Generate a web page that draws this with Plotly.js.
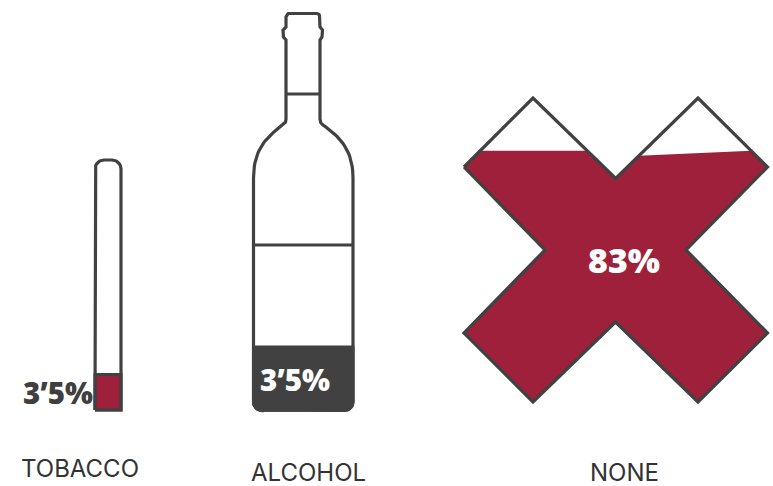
<!DOCTYPE html>
<html>
<head>
<meta charset="utf-8">
<script src="https://cdn.plot.ly/plotly-3.0.1.min.js"></script>
<style>html,body{margin:0;padding:0;background:#fff}#chart{width:773px;height:486px}</style>
</head>
<body>
<div id="chart"></div>
<script>
// Survey shares, each shown as a pictogram that is filled up to a level.
const categories = ['TOBACCO', 'ALCOHOL', 'NONE'];
const shareLabels = ['3’5%', '3’5%', '83%'];
const fillLevels = [14.2, 16, 83];

const CRIMSON = '#9f203b';
const INK = '#414141';
const TEXT = '#333333';

// Sample a circular corner into polyline points (angles in degrees, y grows downward).
function arc(cx, cy, r, from, to, steps = 8) {
  const pts = [];
  for (let i = 0; i <= steps; i++) {
    const a = (from + (to - from) * i / steps) * Math.PI / 180;
    pts.push([cx + r * Math.cos(a), cy + r * Math.sin(a)]);
  }
  return pts;
}
// Sample a cubic curve into polyline points.
function cubic(p0, p1, p2, p3, steps = 20) {
  const pts = [];
  for (let i = 0; i <= steps; i++) {
    const t = i / steps, u = 1 - t;
    pts.push([0, 1].map(k => u*u*u*p0[k] + 3*u*u*t*p1[k] + 3*u*t*t*p2[k] + t*t*t*p3[k]));
  }
  return pts;
}
// Keep the part of a polygon on the side where a*x + b*y + c >= 0.
function clip(poly, a, b, c) {
  const out = [];
  const side = p => a * p[0] + b * p[1] + c;
  poly.forEach((p, i) => {
    const q = poly[(i + 1) % poly.length], sp = side(p), sq = side(q);
    if (sp >= 0) out.push(p);
    if ((sp >= 0) !== (sq >= 0)) {
      const t = sp / (sp - sq);
      out.push([p[0] + (q[0] - p[0]) * t, p[1] + (q[1] - p[1]) * t]);
    }
  });
  return out;
}

// Pictogram outlines
const cigarette = [
  [95, 410], [95, 170], ...arc(104, 169, 9, 180, 270), ...arc(112, 169, 9, 270, 360), [121, 410]
];
const bottle = [
  [262, 410], ...arc(262, 402, 8.5, 90, 180), [253.5, 178],
  ...cubic([253.5, 178], [253.5, 150], [266, 137], [283, 125]),
  ...cubic([283, 125], [285, 123.5], [286, 122], [286, 119]),
  [286, 40], [283.5, 37], [283, 30], [286, 27], [286, 17],
  ...arc(289, 16, 2.5, 180, 270), ...arc(317, 16, 2.5, 270, 360),
  [320, 27], [322.5, 30], [322, 37], [320, 40], [320, 119],
  ...cubic([320, 119], [320, 122], [321, 123.5], [323, 125]),
  ...cubic([323, 125], [340, 137], [353, 150], [353, 178]),
  ...arc(344.5, 402, 8.5, 0, 90), [262, 410]
];
const cross = [
  [464, 167], [533, 98], [615.7, 178.5], [698, 98], [767.5, 167], [686, 250], [767.5, 333],
  [698, 402], [615.5, 322], [533, 402], [464, 333], [545, 250]
];
const bottleBands = [[[286, 320], [94, 94]], [[253.5, 353], [245, 245]]];

// Where each pictogram's fill scale starts (floor) and how tall it runs (span).
const fillScales = [
  {floor: 410, span: 250},
  {floor: 410, span: 394},
  {floor: 404, span: 305}
];
const levelY = fillScales.map((s, i) => s.floor - fillLevels[i] / 100 * s.span);

const xy = pts => ({x: [...pts.map(p => p[0]), pts[0][0]], y: [...pts.map(p => p[1]), pts[0][1]]});
const area = (pts, color, edge) => ({
  ...xy(pts), type: 'scatter', mode: 'lines', fill: 'toself', fillcolor: color,
  line: edge ? {color: edge, width: 3} : {width: 0, color: color}, hoverinfo: 'skip', showlegend: false
});
const outline = pts => ({
  ...xy(pts), type: 'scatter', mode: 'lines',
  line: {color: INK, width: 3.2}, hoverinfo: 'skip', showlegend: false
});

// The right arm of the cross carries a slightly tilted liquid surface.
const CROSS_WAIST = 616;
const crossLeft = clip(clip(cross, -1, 0, CROSS_WAIST + 0.5), 0, 1, -levelY[2]);
const crossRight = clip(clip(cross, 1, 0, -CROSS_WAIST), 0.0437, 1, -(levelY[2] + 0.0437 * 750));

const traces = [
  area(clip(cigarette, 0, 1, -levelY[0]), CRIMSON, INK),
  area(clip(bottle, 0, 1, -levelY[1]), INK, INK),
  area(crossLeft, CRIMSON),
  area(crossRight, CRIMSON),
  outline(cigarette),
  outline(bottle),
  outline(cross),
  ...bottleBands.map(b => ({
    x: b[0], y: b[1], type: 'scatter', mode: 'lines',
    line: {color: INK, width: 3}, hoverinfo: 'skip', showlegend: false
  }))
];

const NAME_FONT = 'Inter, "Open Sans", sans-serif';
const SHARE_FONT = '"Open Sans", Inter, sans-serif';
const shareAnchors = [[57.5, 392.5], [294.5, 379], [624, 260]];
const shareColors = ['#3f3f3f', '#ffffff', '#ffffff'];
const shareSizes = [29.5, 29.5, 34];
const nameAnchors = [[79.5, 468], [308.5, 472], [624, 472]];

const annotations = [
  ...shareLabels.map((t, i) => ({
    text: t, x: shareAnchors[i][0], y: shareAnchors[i][1], xref: 'x', yref: 'y', showarrow: false,
    xanchor: 'center', yanchor: 'middle',
    font: {family: SHARE_FONT, size: shareSizes[i], color: shareColors[i], weight: 800}
  })),
  ...categories.map((t, i) => ({
    text: t, x: nameAnchors[i][0], y: nameAnchors[i][1], xref: 'x', yref: 'y', showarrow: false,
    xanchor: 'center', yanchor: 'middle',
    font: {family: NAME_FONT, size: 24, color: TEXT, weight: 400}
  }))
];

const layout = {
  width: 773, height: 486,
  margin: {l: 0, r: 0, t: 0, b: 0},
  paper_bgcolor: '#ffffff', plot_bgcolor: '#ffffff',
  xaxis: {range: [0, 773], visible: false, fixedrange: true},
  yaxis: {range: [486, 0], visible: false, fixedrange: true},
  showlegend: false,
  annotations
};
Plotly.newPlot('chart', traces, layout, {displayModeBar: false, staticPlot: true});
</script>
</body>
</html>
